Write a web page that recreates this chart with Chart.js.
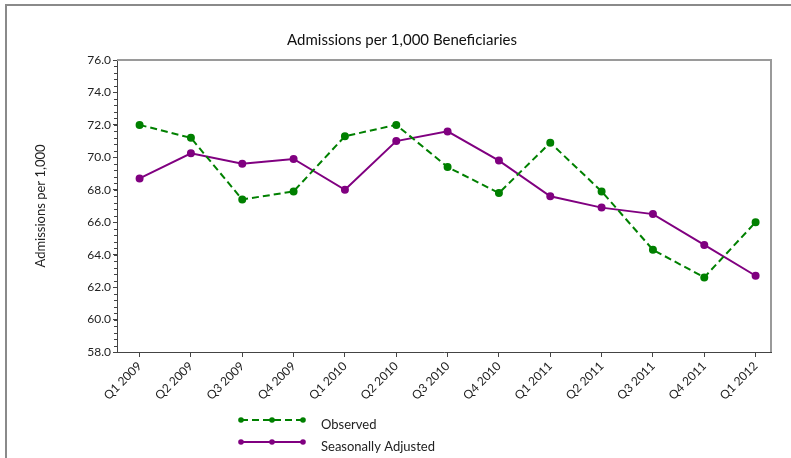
<!DOCTYPE html>
<html>
<head>
<meta charset="utf-8">
<script src="https://cdn.jsdelivr.net/npm/chart.js@4/dist/chart.umd.min.js"></script>
<style>
  html, body { margin: 0; padding: 0; background: #fff; }
  #wrap { width: 791px; height: 458px; position: relative; }
</style>
</head>
<body>
<div id="wrap"><canvas id="grafico" width="791" height="458"></canvas></div>
<script>
// dados
var trimestres = ["Q1 2009","Q2 2009","Q3 2009","Q4 2009","Q1 2010","Q2 2010","Q3 2010","Q4 2010","Q1 2011","Q2 2011","Q3 2011","Q4 2011","Q1 2012"]
var observado = [72.0, 71.2, 67.4, 67.9, 71.3, 72.0, 69.4, 67.8, 70.9, 67.9, 64.3, 62.6, 66.0]
var ajustado = [68.7, 70.25, 69.6, 69.9, 68.0, 71.0, 71.6, 69.8, 67.6, 66.9, 66.5, 64.6, 62.7]
var yTicks = [58, 60, 62, 64, 66, 68, 70, 72, 74, 76]

var fonte = "Lato, 'Open Sans', sans-serif"
var verde = "#008000"
var roxo = "#800080"

function pontos(arr) {
    var out = []
    for (var i = 0; i < arr.length; i++) out.push({ x: i, y: arr[i] })
    return out
}

// moldura, titulo, ticks menores e legenda
var extras = {
    id: "extras",
    beforeDraw: function(chart) {
        var c = chart.ctx
        c.save()
        c.strokeStyle = "#8a8a8a"
        c.lineWidth = 2
        c.beginPath()
        c.moveTo(6, 458); c.lineTo(6, 5); c.lineTo(791, 5)
        c.stroke()
        c.restore()
    },
    afterDraw: function(chart) {
        var c = chart.ctx
        var a = chart.chartArea
        var y = chart.scales.y
        c.save()
        // moldura cinza em cima e a direita
        c.strokeStyle = "#9a9a9a"
        c.lineWidth = 2
        c.beginPath()
        c.moveTo(a.left, a.top); c.lineTo(a.right, a.top); c.lineTo(a.right, a.bottom)
        c.stroke()
        // ticks menores
        c.strokeStyle = "#444"
        c.lineWidth = 1
        c.beginPath()
        for (var v = 58; v <= 76.001; v += 0.4) {
            var py = Math.round(y.getPixelForValue(v)) + 0.5
            c.moveTo(a.left - 3, py); c.lineTo(a.left, py)
        }
        c.stroke()
        // titulo
        c.fillStyle = "#111"
        c.font = "15px " + fonte
        c.textAlign = "center"
        c.textBaseline = "middle"
        c.fillText("Admissions per 1,000 Beneficiaries", 402, 40)
        // legenda
        var ds = chart.data.datasets
        var linhas = [420, 442]
        for (var i = 0; i < ds.length; i++) {
            var ly = linhas[i]
            c.strokeStyle = ds[i].borderColor
            c.lineWidth = 2
            c.setLineDash(ds[i].borderDash || [])
            c.beginPath()
            c.moveTo(241, ly); c.lineTo(303, ly)
            c.stroke()
            c.setLineDash([])
            c.fillStyle = ds[i].pointBackgroundColor
            var xs = [241, 272, 303]
            for (var k = 0; k < xs.length; k++) {
                c.beginPath()
                c.arc(xs[k], ly, 2.8, 0, Math.PI * 2)
                c.fill()
            }
            c.fillStyle = "#222"
            c.font = "13px " + fonte
            c.textAlign = "left"
            c.fillText(ds[i].label, 321, ly + 5)
        }
        c.restore()
    }
}

new Chart(document.getElementById("grafico"), {
    type: "line",
    data: {
        datasets: [
            { label: "Observed", data: pontos(observado), borderColor: verde, backgroundColor: verde,
              pointBackgroundColor: verde, pointBorderColor: verde, borderWidth: 2, borderDash: [7, 4],
              pointRadius: 3, pointStyle: "circle", tension: 0 },
            { label: "Seasonally Adjusted", data: pontos(ajustado), borderColor: roxo, backgroundColor: roxo,
              pointBackgroundColor: roxo, pointBorderColor: roxo, borderWidth: 2,
              pointRadius: 3, pointStyle: "circle", tension: 0 }
        ]
    },
    options: {
        responsive: false,
        animation: false,
        devicePixelRatio: 1,
        layout: { padding: { top: 60, right: 20, left: 0, bottom: 0 } },
        plugins: { legend: { display: false }, title: { display: false }, tooltip: { enabled: false } },
        scales: {
            x: {
                type: "linear",
                min: -0.44,
                max: 12.3,
                afterBuildTicks: function(s) { s.ticks = trimestres.map(function(t, i) { return { value: i } }) },
                afterFit: function(s) { s.height = 106 },
                grid: { drawOnChartArea: false, drawTicks: true, tickLength: 5, color: "#444" },
                border: { display: true, color: "#444", width: 1 },
                ticks: {
                    autoSkip: false, minRotation: 45, maxRotation: 45, color: "#222", padding: 2,
                    font: { family: fonte, size: 12 },
                    callback: function(v) { return trimestres[v] }
                }
            },
            y: {
                min: 58,
                max: 76,
                afterBuildTicks: function(s) { s.ticks = yTicks.map(function(v) { return { value: v } }) },
                afterFit: function(s) { s.width = 117 },
                grid: { drawOnChartArea: false, drawTicks: true, tickLength: 4, color: "#444" },
                border: { display: true, color: "#444", width: 1 },
                ticks: {
                    color: "#222", padding: 2,
                    font: { family: fonte, size: 12 },
                    callback: function(v) { return v.toFixed(1) }
                },
                title: {
                    display: true, text: "Admissions per 1,000", color: "#222",
                    font: { family: fonte, size: 13 },
                    padding: { top: 33, bottom: 0 }
                }
            }
        }
    },
    plugins: [extras]
})
</script>
</body>
</html>
